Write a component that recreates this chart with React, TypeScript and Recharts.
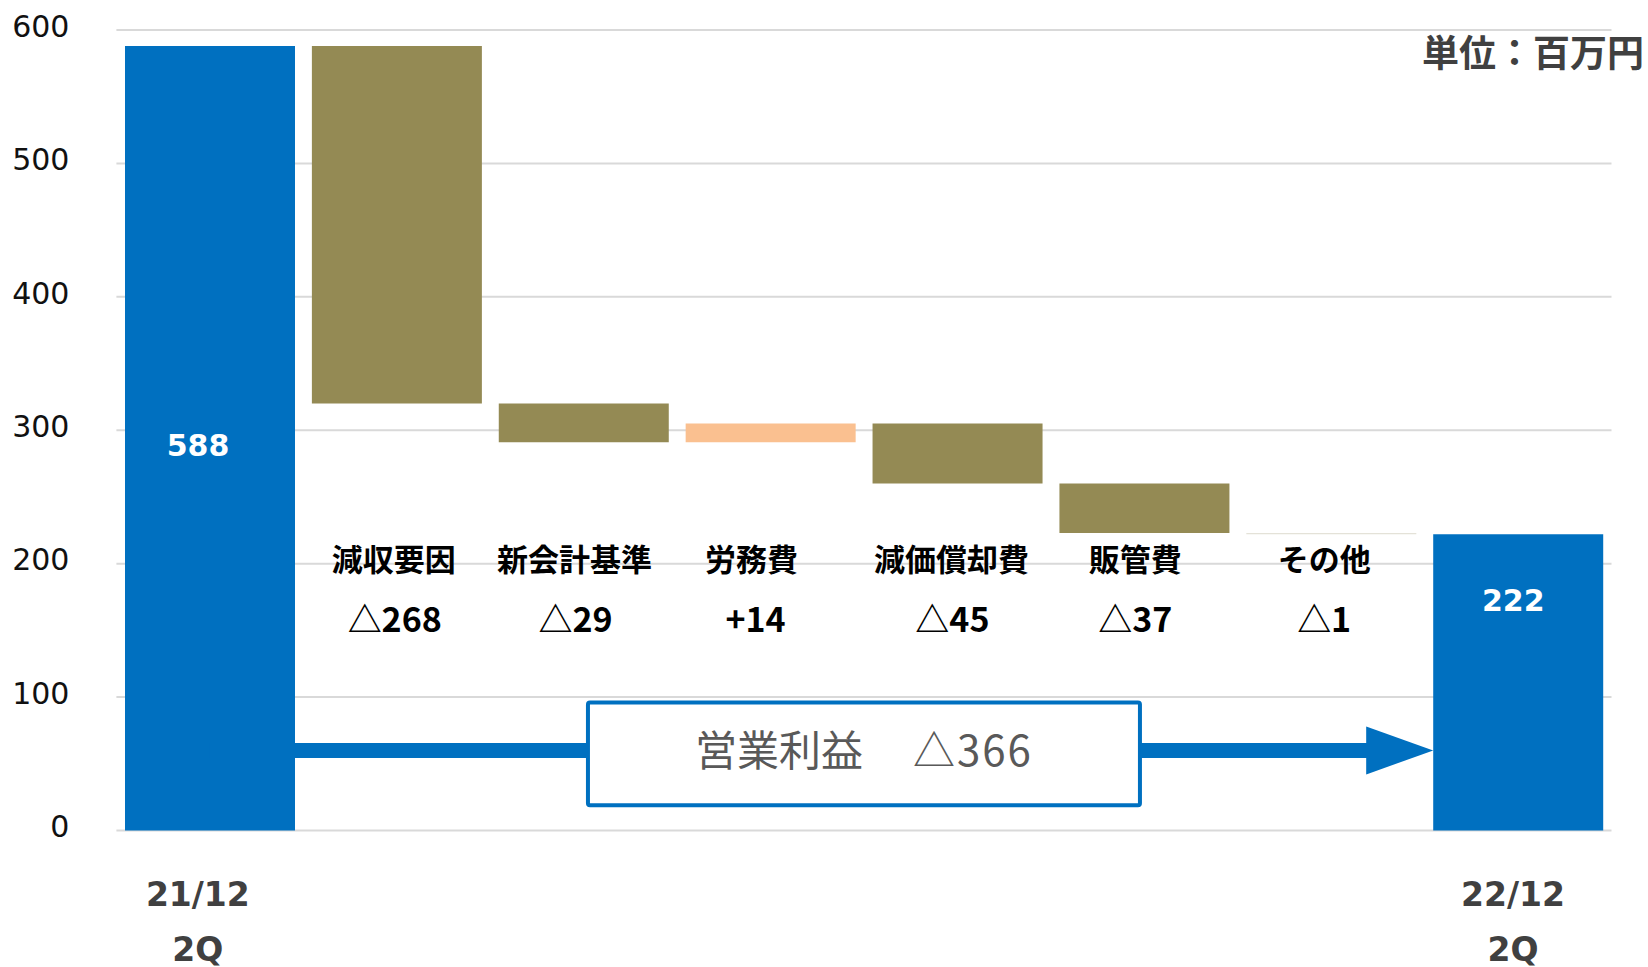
import {
  BarChart,
  Bar,
  XAxis,
  YAxis,
  CartesianGrid,
  Cell,
  LabelList,
  ReferenceLine,
  ReferenceArea,
  ReferenceDot,
} from "recharts";

// categories left to right; first and last are the period totals
const categories = ["21/12 2Q", "減収要因", "新会計基準", "労務費", "減価償却費", "販管費", "その他", "22/12 2Q"];
// operating profit (百万円): totals at the ends, changes in between
const changes = [588, -268, -29, 14, -45, -37, -1, 222];
const yTicks = [0, 100, 200, 300, 400, 500, 600];
const unitLabel = "単位：百万円";
const summaryLabel = "営業利益";

const BLUE = "#0070C0";
const OLIVE = "#948A54";
const PEACH = "#FAC090";
const PALE = "#E4E2D8";
const CJK = '"Noto Sans CJK JP", "Noto Sans", sans-serif';

// where the annotations sit, in axis units
const NAME_LEVEL = 203;
const VALUE_LEVEL = 158;
const ARROW_LEVEL = 60;
const BOX_BOTTOM = 19;
const BOX_TOP = 96;
// small horizontal nudges (px) of the in-plot labels, as in the slide
const nameNudge = [0, -3, -9, -19, -6, -9, -7, 0];
const valueNudge = [0, -2, -8, -15, -5, -9, -7, 0];

const last = categories.length - 1;
const isTotal = (i: number) => i === 0 || i === last;

const fmt = (v: number, total: boolean) =>
  total ? String(v) : v < 0 ? `△${Math.abs(v)}` : `+${v}`;

// waterfall rows: invisible base + visible size
let running = 0;
const rows = categories.map((name, i) => {
  const change = changes[i];
  if (isTotal(i)) {
    running = change;
    return { name, base: 0, size: change, change };
  }
  const from = running;
  running += change;
  return { name, base: Math.min(from, running), size: Math.abs(change), change };
});

const totalChange = changes[last] - changes[0];

function barColor(i: number) {
  if (isTotal(i)) return BLUE;
  if (Math.abs(changes[i]) <= 1) return PALE;
  return changes[i] > 0 ? PEACH : OLIVE;
}

const XTick = (props: any) => {
  const { x, y, payload, index } = props;
  const parts = String(payload.value).split(" ");
  if (parts.length < 2) return <g />;
  const dx = index === 0 ? -12 : -5;
  const style = { fontFamily: "DejaVu Sans", fontWeight: 700, fontSize: 33, fill: "#404040" };
  return (
    <g>
      <text x={x + dx} y={y + 75} textAnchor="middle" {...style}>
        {parts[0]}
      </text>
      <text x={x + dx} y={y + 130} textAnchor="middle" {...style}>
        {parts[1]}
      </text>
    </g>
  );
};

const YTick = (props: any) => {
  const { x, y, payload } = props;
  return (
    <text x={x} y={y - 4} dy="0.36em" textAnchor="end" fontFamily="DejaVu Sans" fontSize={30} fill="#111">
      {payload.value}
    </text>
  );
};

const TotalLabel = (props: any) => {
  const { x, y, width, height, index } = props;
  if (!isTotal(index)) return null;
  const dx = index === 0 ? -12 : -5;
  const ty = index === 0 ? y + height / 2 + 7 : y + 66;
  return (
    <text
      x={x + width / 2 + dx}
      y={ty}
      dy="0.36em"
      textAnchor="middle"
      fontFamily="DejaVu Sans"
      fontWeight={700}
      fontSize={30}
      fill="#fff"
    >
      {changes[index]}
    </text>
  );
};

const SummaryBox = (props: any) => {
  const { x, y, width, height } = props;
  const inset = width * 0.1308;
  return (
    <g>
      <rect
        x={x + inset}
        y={y}
        width={width - inset * 2}
        height={height}
        fill="#fff"
        stroke={BLUE}
        strokeWidth={4}
        rx={2}
      />
      <text
        x={x + width / 2}
        y={y + height / 2 - 3}
        dy="0.36em"
        textAnchor="middle"
        fontFamily={CJK}
        fontSize={42}
        fill="#595959"
      >
        <tspan>{summaryLabel}</tspan>
        <tspan dx={50} letterSpacing={2}>
          {fmt(totalChange, false)}
        </tspan>
      </text>
    </g>
  );
};

const LeftShaft = (p: any) => (
  <line x1={p.x1} y1={p.y1} x2={p.x2 + 4} y2={p.y2} stroke={BLUE} strokeWidth={15} />
);

const ArrowShaft = (p: any) => {
  const band = (p.x2 - p.x1) / 2;
  const tip = p.x2 - band * 0.454;
  const base = tip - 67;
  const yy = p.y1;
  return (
    <g>
      <line x1={p.x1 - 4} y1={yy} x2={base + 1} y2={yy} stroke={BLUE} strokeWidth={15} />
      <polygon points={`${base},${yy - 24} ${tip},${yy} ${base},${yy + 24}`} fill={BLUE} />
    </g>
  );
};

export default function App() {
  return (
    <div style={{ position: "fixed", left: 0, top: 0, width: 1648, height: 967, background: "#fff" }}>
      <BarChart
        width={1648}
        height={967}
        data={rows}
        margin={{ top: 30, right: 36.5, bottom: 36.5, left: 0 }}
        barCategoryGap="4.6%"
      >
        <CartesianGrid vertical={false} stroke="#D9D9D9" strokeWidth={2} />
        <XAxis
          dataKey="name"
          axisLine={false}
          tickLine={false}
          tickSize={0}
          tickMargin={0}
          height={100}
          interval={0}
          tick={XTick}
        />
        <YAxis
          type="number"
          domain={[0, 600]}
          ticks={yTicks}
          width={116.4}
          axisLine={false}
          tickLine={false}
          tickSize={0}
          tickMargin={47}
          tick={YTick}
        />
        <Bar dataKey="base" stackId="w" fill="transparent" isAnimationActive={false} />
        <Bar dataKey="size" stackId="w" isAnimationActive={false}>
          {rows.map((r, i) => (
            <Cell key={r.name} fill={barColor(i)} />
          ))}
          <LabelList dataKey="size" content={TotalLabel} />
        </Bar>

        <ReferenceLine
          segment={[
            { x: categories[0], y: ARROW_LEVEL },
            { x: categories[2], y: ARROW_LEVEL },
          ]}
          shape={LeftShaft}
        />
        <ReferenceLine
          segment={[
            { x: categories[5], y: ARROW_LEVEL },
            { x: categories[last], y: ARROW_LEVEL },
          ]}
          shape={ArrowShaft}
        />
        <ReferenceArea x1={categories[2]} x2={categories[5]} y1={BOX_BOTTOM} y2={BOX_TOP} shape={SummaryBox} />

        {rows.map((r, i) =>
          isTotal(i) ? null : (
            <ReferenceDot
              key={`n-${r.name}`}
              x={r.name}
              y={NAME_LEVEL}
              r={0}
              shape={(p: any) => (
                <text
                  x={p.cx + nameNudge[i]}
                  y={p.cy}
                  dy="0.36em"
                  textAnchor="middle"
                  fontFamily={CJK}
                  fontWeight={700}
                  fontSize={31}
                  fill="#000"
                >
                  {r.name}
                </text>
              )}
            />
          )
        )}
        {rows.map((r, i) =>
          isTotal(i) ? null : (
            <ReferenceDot
              key={`v-${r.name}`}
              x={r.name}
              y={VALUE_LEVEL}
              r={0}
              shape={(p: any) => (
                <text
                  x={p.cx + valueNudge[i]}
                  y={p.cy}
                  dy="0.36em"
                  textAnchor="middle"
                  fontFamily={CJK}
                  fontWeight={700}
                  fontSize={34}
                  fill="#000"
                >
                  {fmt(r.change, false)}
                </text>
              )}
            />
          )
        )}
      </BarChart>
      <div
        style={{
          position: "absolute",
          right: 4,
          top: 33,
          fontFamily: CJK,
          fontWeight: 700,
          fontSize: 37,
          lineHeight: 1,
          color: "#404040",
        }}
      >
        {unitLabel}
      </div>
    </div>
  );
}
